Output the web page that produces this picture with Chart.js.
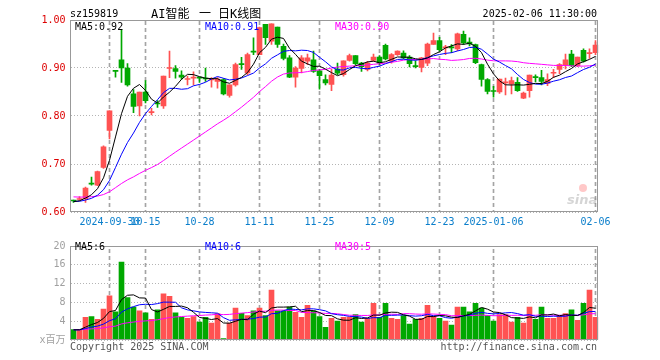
<!DOCTYPE html>
<html>
<head>
<meta charset="utf-8">
<script src="https://cdn.jsdelivr.net/npm/chart.js@4/dist/chart.umd.min.js"></script>
<style>
body { margin: 0; background: #fff; }
#wrap { position: relative; width: 660px; height: 360px; }
canvas { position: absolute; left: 0; }
</style>
</head>
<body>
<div id="wrap">
    <canvas id="kChart" width="660" height="235" style="top:0"></canvas>
    <canvas id="volChart" width="660" height="125" style="top:235px"></canvas>
</div>
<script>
// trading days shown on the chart
const dates = [
    "2024-09-20", "2024-09-23", "2024-09-24", "2024-09-25", "2024-09-26", "2024-09-27", "2024-09-30",
    "2024-10-08", "2024-10-09", "2024-10-10", "2024-10-11", "2024-10-14", "2024-10-15", "2024-10-16",
    "2024-10-17", "2024-10-18", "2024-10-21", "2024-10-22", "2024-10-23", "2024-10-24", "2024-10-25",
    "2024-10-28", "2024-10-29", "2024-10-30", "2024-10-31", "2024-11-01", "2024-11-04", "2024-11-05",
    "2024-11-06", "2024-11-07", "2024-11-08", "2024-11-11", "2024-11-12", "2024-11-13", "2024-11-14",
    "2024-11-15", "2024-11-18", "2024-11-19", "2024-11-20", "2024-11-21", "2024-11-22", "2024-11-25",
    "2024-11-26", "2024-11-27", "2024-11-28", "2024-11-29", "2024-12-02", "2024-12-03", "2024-12-04",
    "2024-12-05", "2024-12-06", "2024-12-09", "2024-12-10", "2024-12-11", "2024-12-12", "2024-12-13",
    "2024-12-16", "2024-12-17", "2024-12-18", "2024-12-19", "2024-12-20", "2024-12-23", "2024-12-24",
    "2024-12-25", "2024-12-26", "2024-12-27", "2024-12-30", "2024-12-31", "2025-01-02", "2025-01-03",
    "2025-01-06", "2025-01-07", "2025-01-08", "2025-01-09", "2025-01-10", "2025-01-13", "2025-01-14",
    "2025-01-15", "2025-01-16", "2025-01-17", "2025-01-20", "2025-01-21", "2025-01-22", "2025-01-23",
    "2025-01-24", "2025-01-27", "2025-02-05", "2025-02-06"
]

const openP = [
    0.624, 0.626, 0.628, 0.659, 0.656, 0.693, 0.770, 0.894, 0.917, 0.900,
    0.846, 0.821, 0.850, 0.807, 0.826, 0.821, 0.899, 0.899, 0.885, 0.876,
    0.879, 0.880, 0.878, 0.875, 0.872, 0.876, 0.843, 0.865, 0.908, 0.890,
    0.934, 0.928, 0.991, 0.956, 0.985, 0.945, 0.921, 0.881, 0.899, 0.914,
    0.917, 0.894, 0.876, 0.866, 0.898, 0.886, 0.916, 0.926, 0.910, 0.897,
    0.916, 0.923, 0.947, 0.914, 0.928, 0.931, 0.923, 0.904, 0.901, 0.910,
    0.949, 0.957, 0.942, 0.943, 0.940, 0.970, 0.954, 0.949, 0.907, 0.876,
    0.852, 0.850, 0.869, 0.867, 0.870, 0.837, 0.853, 0.881, 0.880, 0.868,
    0.889, 0.897, 0.907, 0.929, 0.905, 0.937, 0.930, 0.932
]
const highP = [
    0.625, 0.632, 0.652, 0.673, 0.685, 0.738, 0.811, 0.894, 0.980, 0.909,
    0.855, 0.850, 0.874, 0.816, 0.832, 0.883, 0.935, 0.905, 0.894, 0.883,
    0.892, 0.881, 0.900, 0.880, 0.880, 0.878, 0.865, 0.910, 0.922, 0.931,
    0.963, 0.985, 0.991, 0.992, 0.985, 0.950, 0.926, 0.903, 0.926, 0.929,
    0.935, 0.897, 0.886, 0.897, 0.910, 0.915, 0.929, 0.926, 0.912, 0.914,
    0.929, 0.926, 0.950, 0.930, 0.936, 0.936, 0.926, 0.915, 0.922, 0.952,
    0.973, 0.964, 0.947, 0.949, 0.973, 0.977, 0.963, 0.950, 0.908, 0.878,
    0.862, 0.877, 0.879, 0.881, 0.880, 0.850, 0.885, 0.886, 0.895, 0.888,
    0.897, 0.909, 0.929, 0.937, 0.923, 0.940, 0.940, 0.957
]
const lowP = [
    0.620, 0.624, 0.620, 0.656, 0.655, 0.691, 0.752, 0.881, 0.870, 0.862,
    0.807, 0.800, 0.827, 0.802, 0.818, 0.816, 0.880, 0.879, 0.876, 0.865,
    0.865, 0.870, 0.872, 0.860, 0.858, 0.844, 0.839, 0.862, 0.897, 0.886,
    0.928, 0.928, 0.949, 0.949, 0.943, 0.917, 0.880, 0.860, 0.890, 0.907,
    0.891, 0.856, 0.865, 0.853, 0.886, 0.883, 0.914, 0.907, 0.893, 0.894,
    0.914, 0.907, 0.917, 0.910, 0.926, 0.919, 0.902, 0.900, 0.892, 0.905,
    0.949, 0.935, 0.928, 0.932, 0.936, 0.949, 0.946, 0.909, 0.862, 0.846,
    0.839, 0.847, 0.844, 0.846, 0.851, 0.836, 0.839, 0.871, 0.865, 0.863,
    0.880, 0.888, 0.898, 0.903, 0.903, 0.912, 0.920, 0.928
]
const closeP = [
    0.623, 0.628, 0.650, 0.658, 0.684, 0.736, 0.811, 0.893, 0.900, 0.865,
    0.820, 0.850, 0.832, 0.808, 0.825, 0.883, 0.900, 0.893, 0.881, 0.877,
    0.880, 0.879, 0.877, 0.876, 0.877, 0.846, 0.865, 0.907, 0.907, 0.928,
    0.933, 0.984, 0.963, 0.992, 0.949, 0.920, 0.881, 0.900, 0.921, 0.921,
    0.893, 0.884, 0.869, 0.885, 0.889, 0.915, 0.926, 0.909, 0.903, 0.910,
    0.923, 0.910, 0.919, 0.928, 0.935, 0.921, 0.909, 0.903, 0.921, 0.950,
    0.957, 0.938, 0.943, 0.942, 0.971, 0.952, 0.950, 0.911, 0.876, 0.851,
    0.851, 0.877, 0.870, 0.874, 0.853, 0.848, 0.885, 0.880, 0.872, 0.876,
    0.890, 0.907, 0.917, 0.905, 0.923, 0.914, 0.931, 0.948
]
// volume, millions
const volume = [
    2.2, 2.2, 4.8, 5.0, 4.4, 6.6, 9.4, 6.0, 16.6, 9.0,
    7.0, 6.2, 5.8, 4.4, 6.4, 9.8, 9.3, 5.8, 4.8, 4.6,
    5.0, 3.8, 4.8, 3.6, 5.6, 0.3, 3.6, 6.8, 5.7, 5.2,
    6.2, 6.8, 5.2, 10.6, 6.2, 6.2, 7.0, 5.9, 4.8, 7.4,
    6.2, 5.0, 2.7, 4.6, 4.0, 4.8, 4.9, 5.4, 3.8, 4.6,
    7.8, 4.8, 7.8, 4.6, 4.4, 5.2, 3.4, 4.4, 4.6, 7.4,
    5.1, 4.6, 4.0, 3.2, 7.0, 7.0, 6.0, 7.8, 6.8, 5.2,
    4.0, 5.4, 5.4, 3.8, 4.8, 3.6, 7.0, 4.4, 7.0, 4.6,
    4.6, 5.2, 5.6, 6.4, 4.2, 7.8, 10.6, 4.8
]
// estimated sessions before the window, only used to seed the moving averages
const priorCloses = [
    0.645, 0.642, 0.640, 0.644, 0.641, 0.638, 0.636, 0.639, 0.637, 0.634,
    0.636, 0.638, 0.635, 0.633, 0.636, 0.634, 0.631, 0.629, 0.628, 0.630,
    0.626, 0.624, 0.622, 0.620, 0.621, 0.619, 0.622, 0.623, 0.621
]
const priorVolumes = [
    2.6, 2.3, 2.1, 2.5, 2.2, 2.0, 2.4, 2.3, 1.9, 2.1,
    2.2, 2.5, 2.0, 1.8, 2.3, 2.4, 2.1, 2.0, 2.2, 2.6,
    2.3, 1.9, 2.0, 2.2, 2.4, 2.1, 2.0, 2.3, 2.2
]

const tickDates = ["2024-09-30", "2024-10-15", "2024-10-28", "2024-11-11", "2024-11-25",
    "2024-12-09", "2024-12-23", "2025-01-06", "2025-02-06"]
const tickLabels = ["2024-09-30", "10-15", "10-28", "11-11", "11-25", "12-09", "12-23", "2025-01-06", "02-06"]

const RED = "#ff5252"
const GREEN = "#00a800"
const mono = "'DejaVu Sans Mono', 'Noto Sans CJK SC', monospace"

function movingAvg(prior, values, n) {
    let all = prior.concat(values)
    return values.map((v, i) => {
        let end = prior.length + i + 1
        let win = all.slice(Math.max(0, end - n), end)
        return win.reduce((a, b) => a + b, 0) / win.length
    })
}

let candleColor = closeP.map((c, i) => c >= openP[i] ? RED : GREEN)

// dash pattern for the date grid lines (4px on, 3px off)
let dashCanvas = document.createElement("canvas")
dashCanvas.width = 1
dashCanvas.height = 7
let dctx = dashCanvas.getContext("2d")
dctx.fillStyle = "#a4a4a4"
dctx.fillRect(0, 0, 1, 4)
let dashPattern = dctx.createPattern(dashCanvas, "repeat")

// full-height thin bars at the labelled dates act as vertical grid lines
function dateGrid(lo, hi) {
    return {
        label: "dates",
        data: dates.map(d => tickDates.includes(d) ? [lo, hi] : null),
        backgroundColor: dashPattern,
        barThickness: 1,
        grouped: false,
        order: 9,
    }
}

function maLine(label, data, color) {
    return { type: "line", label: label, data: data, borderColor: color, borderWidth: 1,
             pointRadius: 0, tension: 0, order: 1 }
}

function frame(ctx, ca) {
    ctx.save()
    ctx.strokeStyle = "#999"
    ctx.lineWidth = 1
    let l = Math.floor(ca.left) + 0.5, t = Math.floor(ca.top) + 0.5
    ctx.strokeRect(l, t, Math.floor(ca.right) - Math.floor(ca.left) - 1, Math.floor(ca.bottom) - Math.floor(ca.top) - 1)
    ctx.restore()
}

function text(ctx, s, x, y, color, font, align) {
    ctx.font = font || "10px " + mono
    ctx.fillStyle = color
    ctx.textAlign = align || "left"
    ctx.textBaseline = "alphabetic"
    ctx.fillText(s, x, y)
}

// price panel
new Chart(document.getElementById("kChart"), {
    type: "bar",
    data: {
        labels: dates,
        datasets: [
            maLine("MA5", movingAvg(priorCloses, closeP, 5), "#000000"),
            maLine("MA10", movingAvg(priorCloses, closeP, 10), "#0000ff"),
            maLine("MA30", movingAvg(priorCloses, closeP, 30), "#ff00ff"),
            {
                label: "body",
                data: openP.map((o, i) => [o, closeP[i]]),
                backgroundColor: candleColor,
                barThickness: 5,
                minBarLength: 1,
                grouped: false,
                order: 2,
            },
            {
                label: "wick",
                data: lowP.map((l, i) => [l, highP[i]]),
                backgroundColor: candleColor,
                barThickness: 1,
                grouped: false,
                order: 3,
            },
            dateGrid(0.6, 1.0),
        ],
    },
    options: {
        responsive: false,
        animation: false,
        layout: { padding: { top: 20, right: 61.5, left: 0.5, bottom: 0 } },
        plugins: { legend: { display: false }, tooltip: { enabled: false } },
        scales: {
            x: {
                grid: { display: false, drawTicks: false },
                border: { display: false },
                ticks: {
                    autoSkip: false, maxRotation: 0, padding: 4,
                    color: "#0a7ecb", font: { family: mono, size: 10 },
                    callback: (v, i) => {
                        let k = tickDates.indexOf(dates[i])
                        return k < 0 ? "" : tickLabels[k]
                    },
                },
                afterFit: s => { s.height = 23 },
            },
            y: {
                min: 0.6,
                max: 1.0,
                grid: { color: "#b4b4b4", drawTicks: false },
                border: { display: false, dash: [1, 2] },
                ticks: {
                    stepSize: 0.1, padding: 5, color: "#dd0000",
                    font: { family: mono, size: 10 },
                    callback: v => v.toFixed(2),
                },
                afterFit: s => { s.width = 70 },
            },
        },
    },
    plugins: [{
        id: "kText",
        afterDraw(chart) {
            let ctx = chart.ctx
            frame(ctx, chart.chartArea)
            text(ctx, "sz159819", 70, 17, "#000")
            let cjk = "12px 'DejaVu Sans Mono', 'Noto Sans CJK SC'"
            text(ctx, "AI智能", 151, 18, "#000", cjk)
            text(ctx, "一", 199, 18, "#000", cjk)
            text(ctx, "日K线图", 218, 18, "#000", cjk)
            text(ctx, "2025-02-06 11:30:00", 597, 17, "#000", null, "right")
            text(ctx, "MA5:0.92", 75, 30, "#000")
            text(ctx, "MA10:0.91", 205, 30, "#0000ff")
            text(ctx, "MA30:0.90", 335, 30, "#ff00ff")
            // faint sina watermark
            ctx.save()
            ctx.globalAlpha = 0.35
            ctx.fillStyle = "#ff6060"
            ctx.beginPath()
            ctx.arc(583, 188, 4, 0, Math.PI * 2)
            ctx.fill()
            text(ctx, "sina", 567, 204, "#888", "italic bold 13px 'DejaVu Sans'")
            ctx.restore()
        },
    }],
})

// volume panel
new Chart(document.getElementById("volChart"), {
    type: "bar",
    data: {
        labels: dates,
        datasets: [
            maLine("MA5", movingAvg(priorVolumes, volume, 5), "#000000"),
            maLine("MA10", movingAvg(priorVolumes, volume, 10), "#0000ff"),
            maLine("MA30", movingAvg(priorVolumes, volume, 30), "#ff00ff"),
            {
                label: "volume",
                data: volume,
                backgroundColor: candleColor,
                barThickness: 5,
                grouped: false,
                order: 2,
            },
            dateGrid(0, 20),
        ],
    },
    options: {
        responsive: false,
        animation: false,
        layout: { padding: { top: 5, right: 61.5, left: 0.5, bottom: 0 } },
        plugins: { legend: { display: false }, tooltip: { enabled: false } },
        scales: {
            x: {
                grid: { display: false, drawTicks: false },
                border: { display: false },
                ticks: { display: false },
                afterFit: s => { s.height = 20 },
            },
            y: {
                min: 0,
                max: 20,
                grid: { color: "#b4b4b4", drawTicks: false },
                border: { display: false, dash: [1, 2] },
                ticks: {
                    stepSize: 4, padding: 5, color: "#a0a0a0",
                    font: { family: mono, size: 10 },
                    callback: v => v === 0 ? "x百万" : v,
                },
                afterFit: s => { s.width = 70 },
            },
        },
    },
    plugins: [{
        id: "volText",
        afterDraw(chart) {
            let ctx = chart.ctx
            frame(ctx, chart.chartArea)
            text(ctx, "MA5:6", 75, 15, "#000")
            text(ctx, "MA10:6", 205, 15, "#0000ff")
            text(ctx, "MA30:5", 335, 15, "#ff00ff")
            text(ctx, "Copyright 2025 SINA.COM", 70, 115, "#555")
            text(ctx, "http://finance.sina.com.cn", 597, 115, "#555", null, "right")
        },
    }],
})
</script>
</body>
</html>
